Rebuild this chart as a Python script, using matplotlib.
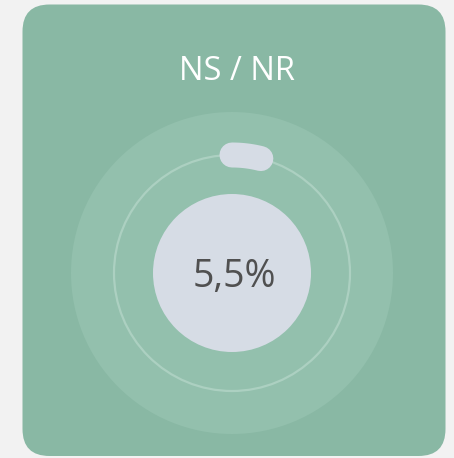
import matplotlib.pyplot as plt
import numpy as np
from matplotlib.patches import Circle, FancyBboxPatch

# gauge data
title = "NS / NR"
value = 5.5  # percent
label = "5,5%"
gauge_max = 140  # full turn of the ring

W, H = 454, 458
fig = plt.figure(figsize=(W / 100, H / 100), dpi=100)
fig.patch.set_facecolor("#f2f2f2")
ax = fig.add_axes([0, 0, 1, 1])
ax.set_xlim(0, W)
ax.set_ylim(H, 0)
ax.set_aspect("equal")
ax.axis("off")

# card
card = FancyBboxPatch((22.5, 4.5), 423, 451.5,
                      boxstyle="round,pad=0,rounding_size=27",
                      fc="#89b8a4", ec="none")
ax.add_patch(card)

cx, cy = 232, 273
ax.add_patch(Circle((cx, cy), 161, fc="#93c0ad", ec="none"))
ax.add_patch(Circle((cx, cy), 118, fc="none", ec="#acd0c1", lw=1.6))
ax.add_patch(Circle((cx, cy), 79, fc="#d6dce5", ec="none"))

# value arc, clockwise from the top
sweep = value / gauge_max * 360
ang = np.radians(90 - np.linspace(0, sweep, 50))
ax.plot(cx + 118 * np.cos(ang), cy - 118 * np.sin(ang),
        color="#d6dce5", lw=18, solid_capstyle="round")

ax.text(cx + 5, 72, title, ha="center", va="center",
        fontsize=23.5, color="white", family="Open Sans")
ax.text(cx + 2, 277, label, ha="center", va="center",
        fontsize=27, color="#505050", family="Open Sans")

fig.savefig("out.png", dpi=100, facecolor=fig.get_facecolor())
